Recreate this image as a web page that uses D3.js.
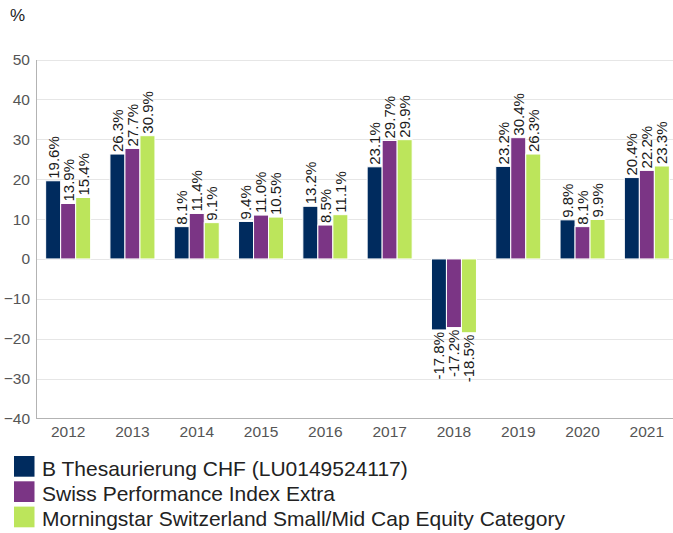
<!DOCTYPE html>
<html>
<head>
<meta charset="utf-8">
<script src="https://cdn.jsdelivr.net/npm/d3@7"></script>
<style>
  body { margin: 0; background: #fff; }
  svg { display: block; font-family: "Liberation Sans", Arial, sans-serif; }
</style>
</head>
<body>
<div id="chart"></div>
<script>
let years = ['2012', '2013', '2014', '2015', '2016', '2017', '2018', '2019', '2020', '2021']
let seriesNames = [
    'B Thesaurierung CHF (LU0149524117)',
    'Swiss Performance Index Extra',
    'Morningstar Switzerland Small/Mid Cap Equity Category'
]
let fundValues = [19.6, 26.3, 8.1, 9.4, 13.2, 23.1, -17.8, 23.2, 9.8, 20.4]
let indexValues = [13.9, 27.7, 11.4, 11.0, 8.5, 29.7, -17.2, 30.4, 8.1, 22.2]
let categoryValues = [15.4, 30.9, 9.1, 10.5, 11.1, 29.9, -18.5, 26.3, 9.9, 23.3]
let yTicks = [50, 40, 30, 20, 10, 0, -10, -20, -30, -40]
let colors = ['#002b5e', '#7b3585', '#bce55b']

let width = 673
let height = 533
let plotLeft = 36
let plotTop = 59.5
let plotBottom = 418.5

let allSeries = [fundValues, indexValues, categoryValues]

let svg = d3.select('#chart').append('svg')
    .attr('width', width)
    .attr('height', height)

let y = d3.scaleLinear()
    .domain([-40, 50])
    .range([plotBottom, plotTop])

let x = d3.scaleBand()
    .domain(years)
    .range([plotLeft, plotLeft + 643])
    .paddingInner(0.3)
    .paddingOuter(0.15)

let xSub = d3.scaleBand()
    .domain([0, 1, 2])
    .range([0, x.bandwidth()])

// unit label
svg.append('text')
    .attr('x', 10)
    .attr('y', 21)
    .attr('font-size', 17)
    .attr('fill', '#222')
    .text('%')

// grid lines
svg.append('g')
    .selectAll('line')
    .data(yTicks.filter(d => d !== -40))
    .join('line')
    .attr('x1', plotLeft)
    .attr('x2', width)
    .attr('y1', d => Math.round(y(d)) + 0.5)
    .attr('y2', d => Math.round(y(d)) + 0.5)
    .attr('stroke', '#e6e6e6')
    .attr('stroke-width', 1)

// y axis
let yAxis = svg.append('g')
    .attr('transform', `translate(${plotLeft},0)`)
    .call(d3.axisLeft(y).tickValues(yTicks).tickSize(0).tickPadding(6))
yAxis.select('.domain').attr('stroke', '#b3b3b3')
yAxis.selectAll('text')
    .attr('font-size', 15.5)
    .attr('fill', '#555')
    .attr('font-family', '"Liberation Sans", Arial, sans-serif')

// x axis at bottom
let xAxis = svg.append('g')
    .attr('transform', `translate(0,${plotBottom})`)
    .call(d3.axisBottom(x).tickSize(0).tickPadding(7))
xAxis.select('.domain').remove()
xAxis.append('line')
    .attr('x1', plotLeft)
    .attr('x2', width)
    .attr('stroke', '#b3b3b3')
xAxis.selectAll('text')
    .attr('font-size', 15.5)
    .attr('fill', '#555')
    .attr('font-family', '"Liberation Sans", Arial, sans-serif')

// bars
let groups = svg.append('g')
    .selectAll('g')
    .data(years)
    .join('g')
    .attr('transform', d => `translate(${x(d)},0)`)

groups.selectAll('rect')
    .data((d, i) => allSeries.map((s, k) => ({ k: k, v: s[i] })))
    .join('rect')
    .attr('x', d => xSub(d.k))
    .attr('width', xSub.bandwidth())
    .attr('y', d => y(Math.max(0, d.v)))
    .attr('height', d => Math.abs(y(d.v) - y(0)))
    .attr('fill', d => colors[d.k])
    .attr('stroke', '#fff')
    .attr('stroke-width', 1)

// value labels
groups.selectAll('text')
    .data((d, i) => allSeries.map((s, k) => ({ k: k, v: s[i] })))
    .join('text')
    .attr('transform', d => {
        let cx = xSub(d.k) + xSub.bandwidth() / 2 + 5.4
        let cy = d.v >= 0 ? y(d.v) - 2 : y(d.v) + 2
        return `translate(${cx},${cy}) rotate(-90)`
    })
    .attr('text-anchor', d => d.v >= 0 ? 'start' : 'end')
    .attr('font-size', 15)
    .attr('fill', '#1a1a1a')
    .text(d => d.v.toFixed(1) + '%')

// legend
let legend = svg.append('g')
    .selectAll('g')
    .data(seriesNames)
    .join('g')
    .attr('transform', (d, i) => `translate(0,${456 + i * 25.3})`)

legend.append('rect')
    .attr('x', 14)
    .attr('y', 0)
    .attr('width', 20.5)
    .attr('height', 20.7)
    .attr('fill', (d, i) => colors[i])

legend.append('text')
    .attr('x', 42)
    .attr('y', 19.6)
    .attr('font-size', 21)
    .attr('fill', '#222')
    .text(d => d)
</script>
</body>
</html>
